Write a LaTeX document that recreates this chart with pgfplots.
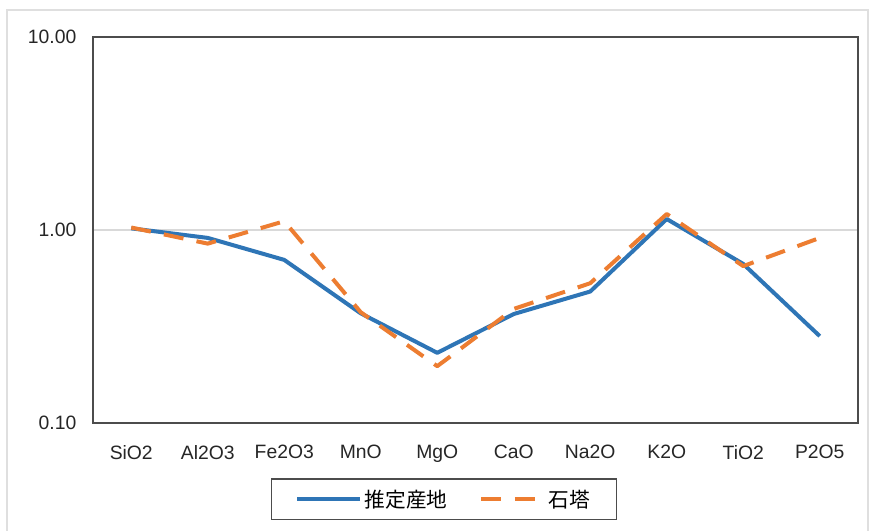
\documentclass[border=0pt]{standalone}
\usepackage{pgfplots}
\pgfplotsset{compat=1.18}
\usepackage{fontspec}
\setmainfont{Liberation Sans}
\newfontfamily\cjk{Noto Sans CJK JP}
\definecolor{sblue}{HTML}{2E75B6}
\definecolor{sorange}{HTML}{ED7D31}
\begin{document}
\begin{tikzpicture}[x=0.75pt,y=0.75pt]
% image in px: axis frame from x=93..858, y=37..423 ; whole 872x531
\useasboundingbox (-93,-108) rectangle (779,423);
\fill[white] (-93,-108) rectangle (779,423);
\draw[gray!25, line width=1pt] (-86,-110) -- (-86,413) -- (775,413) -- (775,-110);
\begin{axis}[
  at={(0,0)}, anchor=south west,
  scale only axis,
  width=573.75pt, height=289.5pt,
  ymode=log,
  xmin=-0.5, xmax=9.5,
  ymin=0.1, ymax=10,
  xtick={0,...,9},
  xticklabels={SiO2,Al2O3,Fe2O3,MnO,MgO,CaO,Na2O,K2O,TiO2,P2O5},
  ytick={0.1,1,10},
  yticklabels={0.10,1.00,10.00},
  minor ytick={},
  minor tick length=0pt,
  major tick length=0pt,
  ymajorgrids=true,
  major grid style={draw=gray!30, line width=0.8pt},
  axis line style={draw=black!70, line width=1pt},
  tick label style={font=\fontsize{14.5}{17}\selectfont, text=black!85},
  xticklabel style={yshift=-13pt},
  yticklabel style={xshift=-9pt},
  legend style={at={(0.459,-0.198)}, anchor=center, draw=black!70, line width=1pt,
    font=\fontsize{15.5}{18}\selectfont, inner xsep=18pt, inner ysep=6pt},
  legend columns=2,
  legend cell align=left,
  /tikz/every even column/.append style={column sep=22pt},
  legend image code/.code={\draw[#1] (0pt,0pt) -- (47pt,0pt);},
]
\addplot[sblue, line width=3pt, line join=round] coordinates {
 (0,1.02) (1,0.91) (2,0.70) (3,0.37) (4,0.231) (5,0.367) (6,0.48) (7,1.14) (8,0.667) (9,0.282)
};
\addlegendentry{\cjk 推定産地}
\addplot[sorange, line width=3pt, line join=round, dash pattern=on 15pt off 10pt] coordinates {
 (0,1.03) (1,0.85) (2,1.11) (3,0.375) (4,0.197) (5,0.39) (6,0.53) (7,1.21) (8,0.65) (9,0.91)
};
\addlegendentry{\cjk 石塔}
\end{axis}
\end{tikzpicture}
\end{document}
